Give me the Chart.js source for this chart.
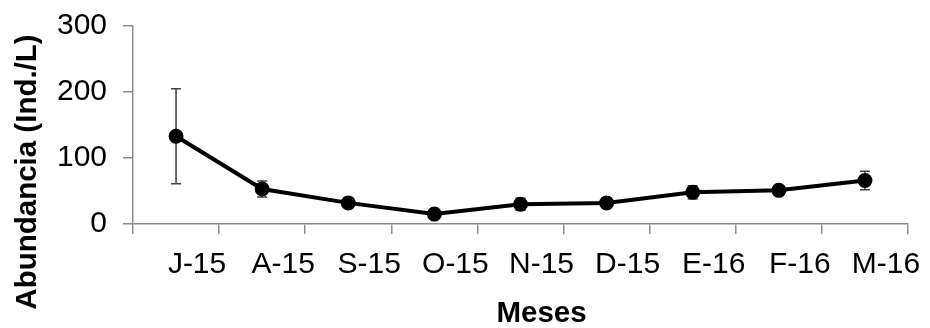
<!DOCTYPE html>
<html>
<head>
<meta charset="utf-8">
<script src="https://cdn.jsdelivr.net/npm/chart.js@4"></script>
<style>
  html, body { margin: 0; padding: 0; background: #ffffff; }
  #wrap { width: 930px; height: 328px; position: relative; }
</style>
</head>
<body>
<div id="wrap"><canvas id="c" width="930" height="328"></canvas></div>
<script>
const categories = ["J-15", "A-15", "S-15", "O-15", "N-15", "D-15", "E-16", "F-16", "M-16"];
const abundance = [133, 53, 32, 15, 30, 32, 48, 51, 66];
const errors = [72, 12, 5, 5, 9, 7, 10, 7, 14];
const yTicks = [0, 100, 200, 300];
const xTitle = "Meses";
const yTitle = "Abundancia (Ind./L)";

const font = "'Liberation Sans', Arial, sans-serif";

const errorBarPlugin = {
  id: 'errorBars',
  beforeDatasetsDraw(chart) {
    const ctx = chart.ctx;
    const xs = chart.scales.x, ys = chart.scales.y;
    ctx.save();
    ctx.strokeStyle = '#404040';
    ctx.lineWidth = 1.5;
    abundance.forEach((v, i) => {
      const x = xs.getPixelForValue(i);
      const yT = ys.getPixelForValue(v + errors[i]);
      const yB = ys.getPixelForValue(v - errors[i]);
      ctx.beginPath();
      ctx.moveTo(x, yT); ctx.lineTo(x, yB);
      ctx.moveTo(x - 5, yT); ctx.lineTo(x + 5, yT);
      ctx.moveTo(x - 5, yB); ctx.lineTo(x + 5, yB);
      ctx.stroke();
    });
    ctx.restore();
  }
};

const axisTitlePlugin = {
  id: 'axisTitles',
  afterDraw(chart) {
    const ctx = chart.ctx;
    const ca = chart.chartArea;
    ctx.save();
    ctx.fillStyle = '#000000';
    ctx.font = "bold 29.5px " + font;
    ctx.textAlign = 'center';
    ctx.textBaseline = 'alphabetic';
    // x-axis title (Excel-style, shifted right like the tick labels)
    ctx.fillText(xTitle, (ca.left + ca.right) / 2 + 21, chart.height - 6);
    // y-axis title, rotated
    ctx.translate(36, ca.bottom - 52);
    ctx.rotate(-Math.PI / 2);
    ctx.fillText(yTitle, 0, 0);
    ctx.restore();
  }
};

new Chart(document.getElementById('c'), {
  type: 'line',
  data: {
    labels: categories,
    datasets: [{
      data: abundance,
      borderColor: '#000000',
      backgroundColor: '#000000',
      borderWidth: 4,
      pointRadius: 5.5,
      pointHoverRadius: 5.5,
      tension: 0,
      fill: false
    }]
  },
  options: {
    responsive: false,
    animation: false,
    events: [],
    layout: { padding: { top: 26, right: 22, left: 10, bottom: 0 } },
    plugins: { legend: { display: false }, tooltip: { enabled: false } },
    scales: {
      x: {
        type: 'category',
        offset: true,
        grid: { offset: true, drawOnChartArea: false, drawTicks: true, tickLength: 10, color: '#8c8c8c', lineWidth: 1.5 },
        border: { color: '#8c8c8c', width: 1.5 },
        ticks: { color: '#000000', font: { family: font, size: 30 }, padding: 13, labelOffset: 21, maxRotation: 0, autoSkip: false },
        afterFit(s) { s.height = 104; s.paddingLeft = 0; s.paddingRight = 0; }
      },
      y: {
        min: 0, max: 300,
        afterBuildTicks(s) { s.ticks = yTicks.map(v => ({ value: v })); },
        grid: { drawOnChartArea: false, drawTicks: true, tickLength: 10, color: '#8c8c8c', lineWidth: 1.5 },
        border: { color: '#8c8c8c', width: 1.5 },
        ticks: { color: '#000000', font: { family: font, size: 30 }, padding: 16 },
        afterFit(s) { s.width = 123; s.paddingTop = 0; s.paddingBottom = 0; }
      }
    }
  },
  plugins: [errorBarPlugin, axisTitlePlugin]
});
</script>
</body>
</html>
